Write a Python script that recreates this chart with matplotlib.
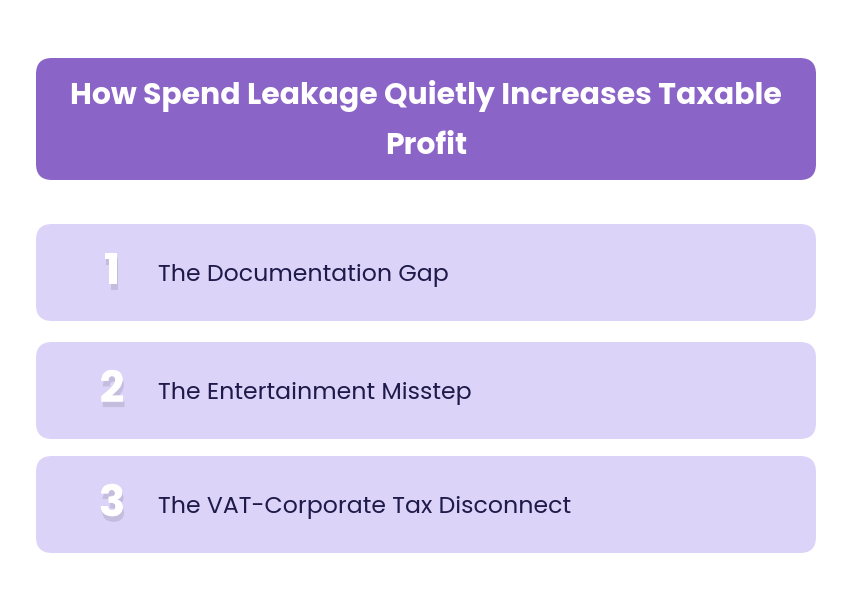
import matplotlib.pyplot as plt
from matplotlib.patches import FancyBboxPatch
import matplotlib.patheffects as pe

title_lines = ["How Spend Leakage Quietly Increases Taxable", "Profit"]
step_numbers = ["1", "2", "3"]
step_labels = ["The Documentation Gap", "The Entertainment Misstep", "The VAT-Corporate Tax Disconnect"]
row_tops = [224, 342, 456]
row_height = 97

plt.rcParams['font.family'] = ['Poppins', 'Inter', 'DejaVu Sans']

fig = plt.figure(figsize=(8.52, 6.02), dpi=100)
ax = fig.add_axes([0, 0, 1, 1])
ax.set_xlim(0, 852)
ax.set_ylim(602, 0)
ax.axis('off')

# header
ax.add_patch(FancyBboxPatch((36, 58), 780, 122, boxstyle="round,pad=0,rounding_size=16",
                            fc='#8B64C8', ec='none'))
ax.text(426, 96, title_lines[0], ha='center', va='center', color='white',
        fontsize=21.5, fontweight='bold')
ax.text(426, 147, title_lines[1], ha='center', va='center', color='white',
        fontsize=21.5, fontweight='bold')

shadow = [pe.withSimplePatchShadow(offset=(1, -4), shadow_rgbFace='#9a96b0', alpha=0.35), pe.Normal()]
for num, label, top in zip(step_numbers, step_labels, row_tops):
    ax.add_patch(FancyBboxPatch((36, top), 780, row_height, boxstyle="round,pad=0,rounding_size=16",
                                fc='#DCD3F8', ec='none'))
    cy = top + row_height / 2
    ax.text(112, cy + 1, num, ha='center', va='center', color='white', fontsize=31,
            fontweight='bold', path_effects=shadow)
    ax.text(158, cy + 3, label, ha='left', va='center', color='#1E1B4B', fontsize=17)

fig.savefig('out.png', dpi=100, facecolor='white')
